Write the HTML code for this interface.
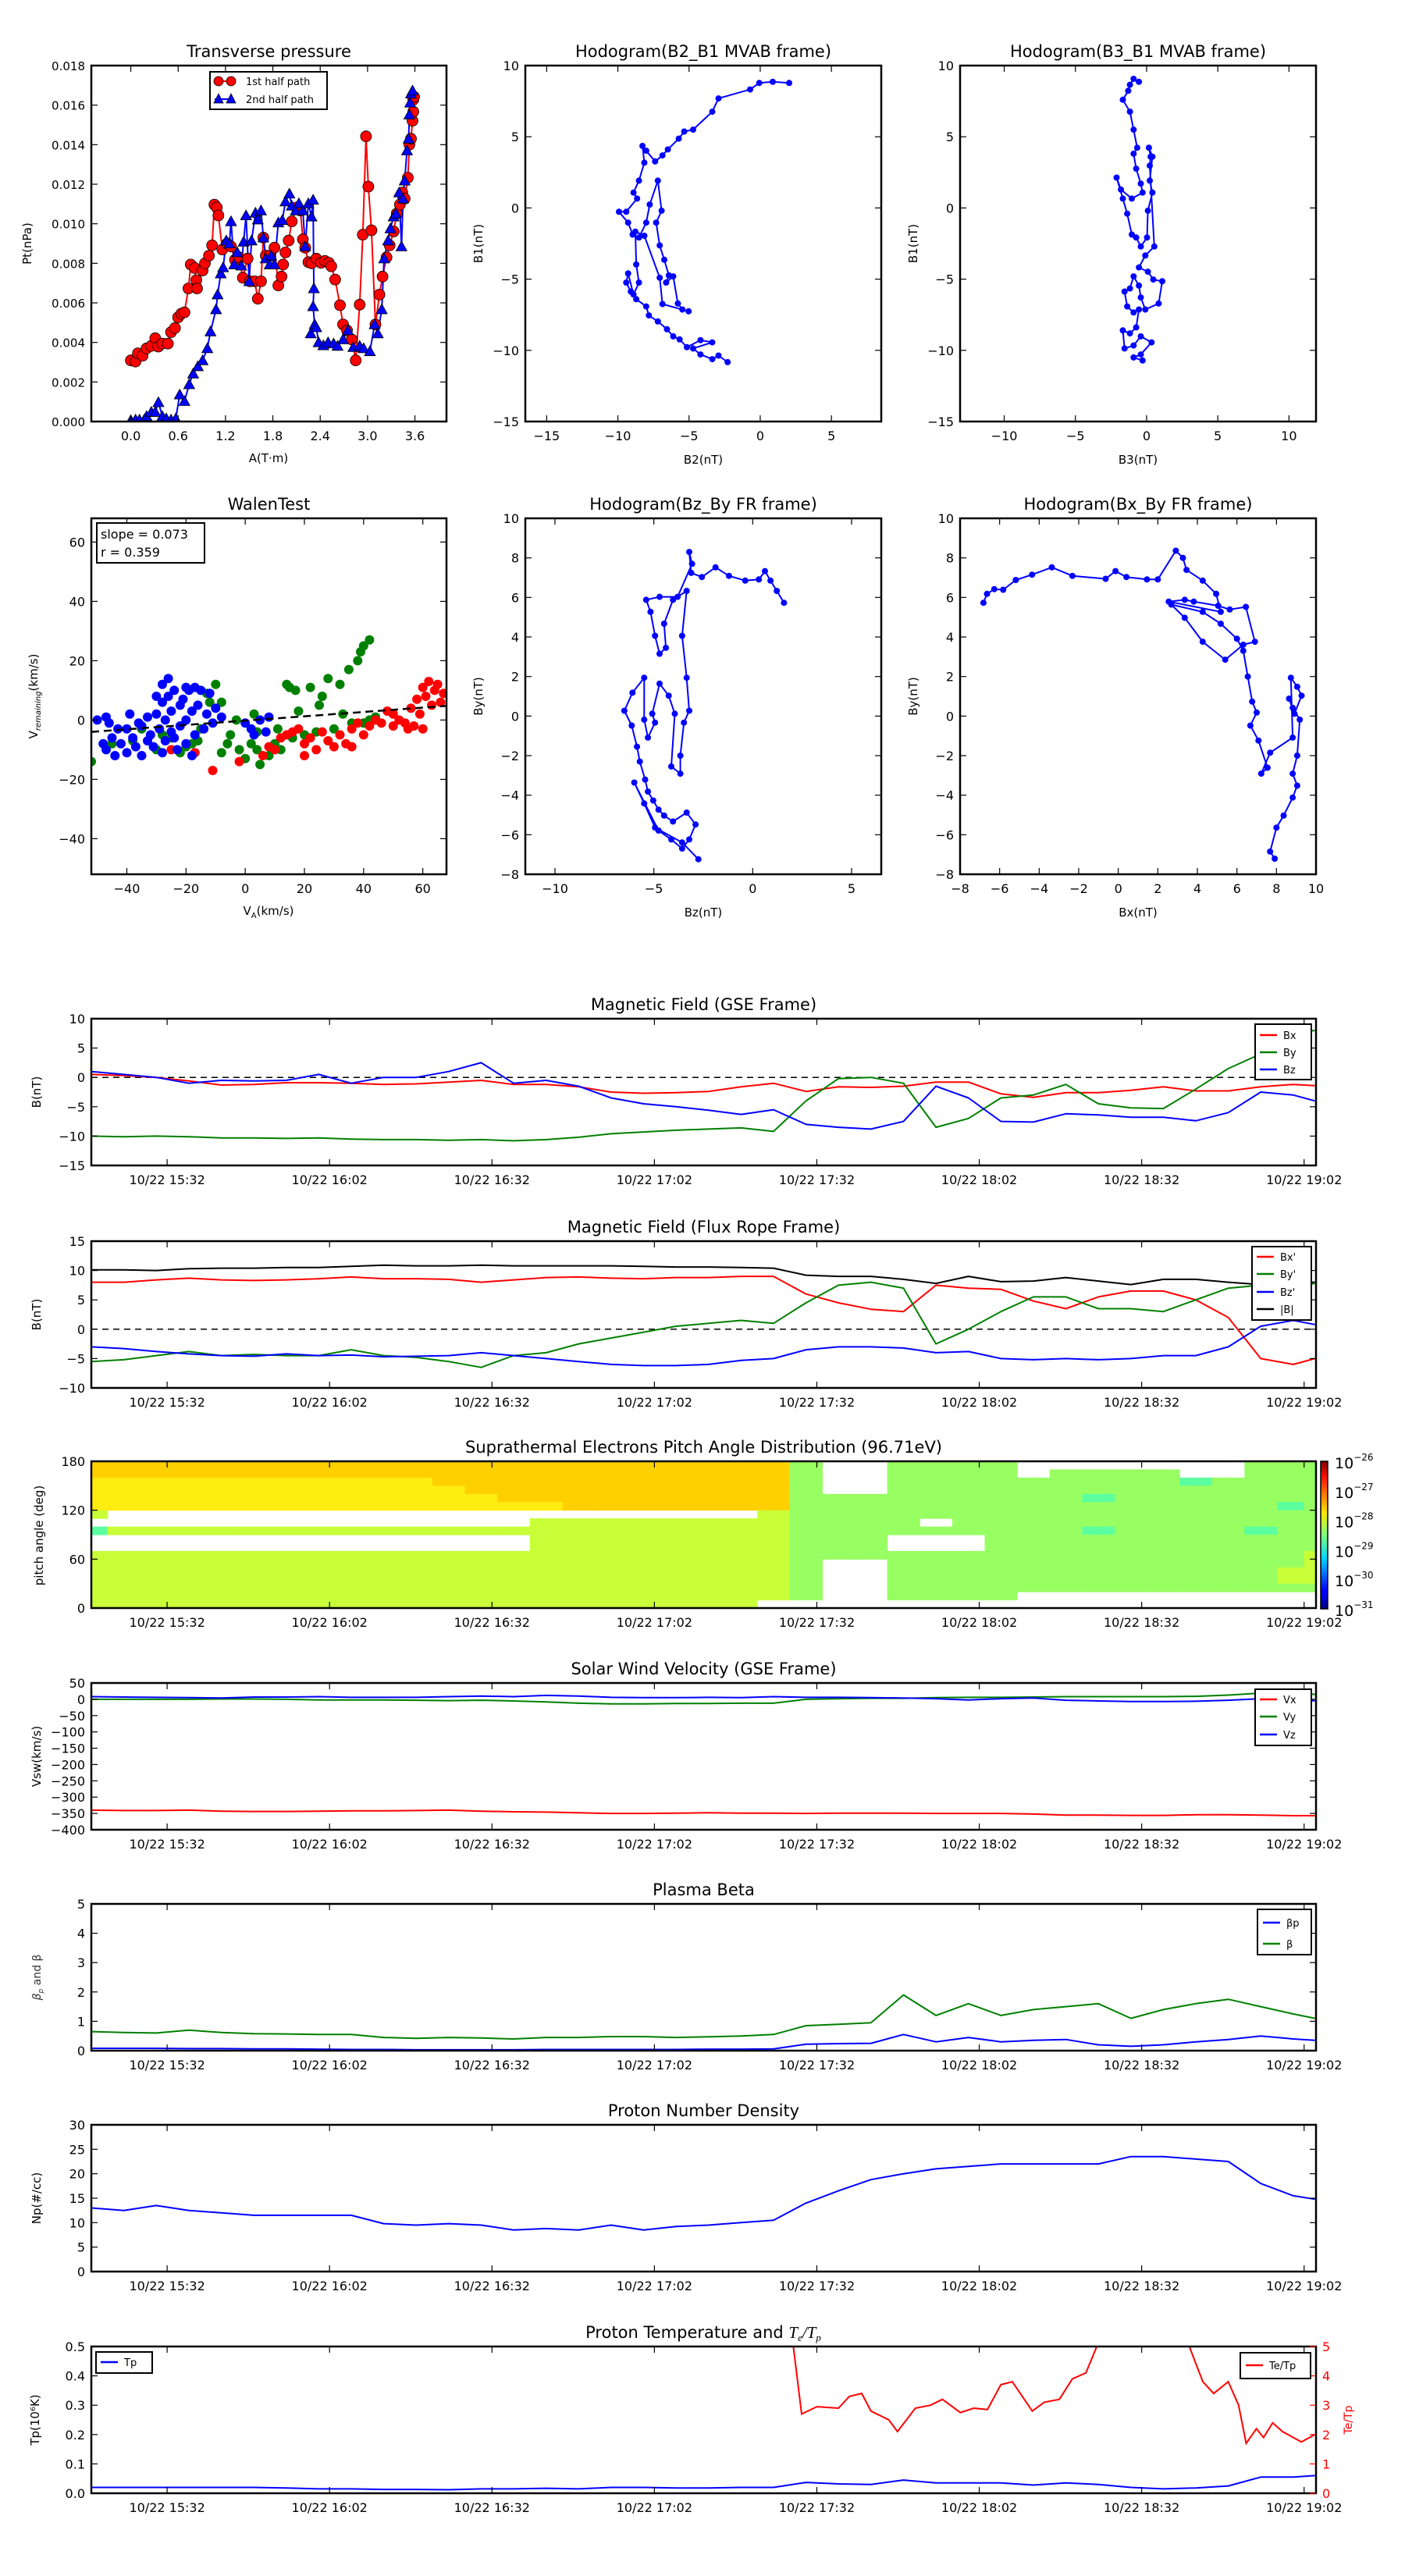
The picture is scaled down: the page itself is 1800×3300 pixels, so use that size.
<!DOCTYPE html>
<html><head><meta charset="utf-8"><title>Flux rope analysis</title>
<style>
html,body{margin:0;padding:0;background:#fff;}
svg{display:block;font-family:"DejaVu Sans","Liberation Sans",sans-serif;}
</style></head>
<body>
<svg id="fig" width="1800" height="3300" viewBox="0 0 1800 3300" xmlns="http://www.w3.org/2000/svg">
<defs>
<linearGradient id="jet" x1="0" y1="1" x2="0" y2="0">
<stop offset="0" stop-color="#00007f"/><stop offset="0.11" stop-color="#0000ff"/><stop offset="0.125" stop-color="#0000ff"/>
<stop offset="0.34" stop-color="#00d4ff"/><stop offset="0.5" stop-color="#7dff7a"/><stop offset="0.65" stop-color="#ffe600"/>
<stop offset="0.89" stop-color="#ff1300"/><stop offset="1" stop-color="#7f0000"/>
</linearGradient>
</defs>
</svg>
<script>
// ---------------- DATA ----------------
// Transverse pressure (A in T·m, Pt in 1e-3 nPa)
const ptA1 = [0.00,0.06,0.09,0.15,0.20,0.26,0.31,0.35,0.40,0.47,0.51,0.56,0.60,0.64,0.68,0.73,0.76,0.81,0.83,0.84,0.91,0.94,0.99,1.03,1.06,1.09,1.11,1.16,1.22,1.27,1.32,1.37,1.42,1.48,1.51,1.57,1.61,1.65,1.68,1.71,1.76,1.82,1.87,1.91,1.93,1.96,2.00,2.04,2.10,2.15,2.18,2.21,2.25,2.29,2.35,2.41,2.46,2.51,2.54,2.59,2.65,2.69,2.74,2.80,2.85,2.90,2.94,2.98,3.01,3.05,3.10,3.15,3.19,3.24,3.28,3.33,3.37,3.41,3.44,3.47,3.51,3.53,3.55,3.57,3.58,3.58,3.59];
const ptP1 = [3.09,3.03,3.45,3.33,3.70,3.82,4.21,3.79,3.94,3.94,4.52,4.73,5.27,5.45,5.52,6.73,7.94,7.76,7.15,6.73,7.64,8.00,8.39,8.91,10.97,10.82,10.42,8.70,9.00,8.85,8.18,8.30,7.27,8.24,7.09,7.09,6.21,7.09,9.30,8.39,8.39,8.79,6.88,7.33,7.94,8.55,9.15,10.12,10.82,10.67,9.21,8.79,8.06,8.00,8.24,8.03,8.12,8.03,7.85,7.18,5.88,4.91,4.61,4.15,3.09,5.91,9.45,14.42,11.88,9.67,4.91,6.42,7.33,8.30,8.91,9.61,10.52,10.97,11.58,11.27,12.33,14.00,14.30,15.21,15.67,16.27,16.42];
const ptA2 = [0.00,0.06,0.11,0.17,0.20,0.26,0.31,0.35,0.40,0.45,0.51,0.57,0.62,0.68,0.74,0.79,0.85,0.91,0.97,1.01,1.08,1.10,1.14,1.17,1.21,1.25,1.27,1.31,1.35,1.40,1.43,1.46,1.50,1.53,1.58,1.61,1.65,1.68,1.71,1.76,1.78,1.82,1.87,1.92,1.96,2.01,2.04,2.09,2.13,2.18,2.21,2.25,2.29,2.31,2.32,2.31,2.33,2.28,2.35,2.38,2.44,2.50,2.57,2.62,2.69,2.75,2.82,2.90,2.95,3.03,3.09,3.13,3.18,3.21,3.26,3.29,3.33,3.36,3.40,3.43,3.45,3.47,3.50,3.52,3.53,3.54,3.55,3.57];
const ptP2 = [0.06,0.09,0.09,0.09,0.27,0.48,0.48,0.97,0.27,0.15,0.09,0.15,1.36,1.03,1.88,2.42,2.79,3.09,3.70,4.55,5.67,6.42,7.48,7.79,9.15,9.00,10.12,7.94,8.55,7.88,9.09,10.42,7.09,9.15,10.55,10.21,10.67,9.30,8.24,7.94,8.39,7.94,10.06,10.18,11.12,11.52,10.91,10.67,11.03,10.67,8.85,11.03,10.36,11.21,6.73,5.82,4.91,4.45,4.76,4.00,3.85,4.00,3.94,3.82,4.15,4.61,3.76,3.82,3.70,3.55,4.91,4.45,5.67,8.24,9.15,9.76,10.36,10.52,11.58,8.85,11.27,12.18,13.70,14.30,15.52,16.12,16.58,16.73];
// Hodogram B2-B1
const h1B2 = [2.03,0.88,-0.07,-0.71,-2.93,-3.37,-4.71,-5.34,-5.72,-6.49,-6.87,-7.38,-8.01,-8.27,-8.14,-8.52,-8.90,-8.65,-9.41,-9.92,-9.28,-8.96,-8.52,-8.01,-7.76,-7.19,-6.93,-7.31,-7.06,-6.74,-6.42,-6.61,-6.11,-5.79,-5.47,-5.03,-6.87,-7.06,-8.14,-8.77,-8.71,-8.52,-8.90,-9.28,-9.41,-9.09,-8.71,-8.01,-7.82,-7.19,-6.55,-6.11,-5.66,-5.15,-4.20,-3.37,-4.71,-4.20,-3.37,-2.93,-2.29];
const h1B1 = [8.78,8.86,8.78,8.32,7.69,6.76,5.50,5.37,4.87,4.11,3.69,3.27,4.02,4.36,3.18,1.92,1.08,0.66,-0.27,-0.27,-1.03,-1.87,-2.08,-1.03,0.24,1.92,-0.19,-1.03,-2.63,-3.64,-4.73,-5.24,-4.81,-6.71,-7.13,-7.26,-6.75,-4.90,-1.95,-1.66,-3.97,-5.24,-6.08,-4.60,-5.24,-5.87,-6.41,-6.92,-7.55,-7.97,-8.52,-9.02,-9.23,-9.78,-9.28,-9.44,-9.87,-10.29,-10.62,-10.37,-10.83];
// Hodogram B3-B1
const h2B3 = [-0.54,-0.91,-1.17,-1.29,-1.67,-1.17,-0.91,-0.66,-0.91,-0.73,-0.41,-0.28,-1.04,-1.80,-2.11,-1.67,-1.36,-1.04,-0.73,-0.41,0.03,0.09,0.41,0.22,0.41,0.16,0.28,0.22,0.54,-0.09,-0.54,0.09,0.47,1.10,0.85,-0.09,-0.41,-0.54,-0.91,-1.17,-1.55,-1.36,-0.91,-0.54,-0.73,-1.17,-1.67,-1.55,-0.91,-0.41,0.35,-0.41,-0.91,-0.28];
const h2B1 = [8.86,9.07,8.65,8.23,7.60,6.76,5.50,4.23,3.81,2.76,1.71,1.08,0.66,1.29,2.13,0.66,-0.40,-1.87,-2.08,-2.71,-2.08,-0.19,1.08,1.92,3.60,4.23,3.60,2.97,-2.71,-3.34,-4.18,-4.48,-5.03,-5.15,-6.71,-7.13,-6.29,-5.45,-4.81,-5.66,-5.87,-6.92,-7.34,-7.13,-8.39,-8.81,-8.60,-9.87,-9.66,-9.02,-9.44,-10.29,-10.50,-10.71];
// Hodogram Bz-By (FR)
const h3Bz = [1.58,1.22,0.90,0.62,0.31,-0.38,-1.20,-1.88,-2.57,-3.11,-3.21,-3.07,-3.80,-4.71,-5.39,-5.17,-4.94,-4.71,-4.39,-4.48,-4.03,-3.34,-3.57,-3.34,-3.21,-3.48,-3.66,-3.66,-4.12,-3.94,-4.25,-4.71,-5.08,-4.94,-5.30,-5.49,-5.49,-6.08,-6.49,-6.12,-5.85,-5.71,-5.44,-5.30,-5.03,-4.76,-4.48,-4.03,-3.34,-2.89,-3.21,-3.57,-4.12,-4.76,-5.99,-5.49,-4.94,-3.57,-2.75];
const h3By = [5.73,6.33,6.85,7.33,6.91,6.85,7.09,7.52,7.03,7.24,8.30,7.70,6.03,6.03,5.88,5.27,4.06,3.15,3.45,4.67,5.88,6.33,4.06,1.94,0.27,-0.33,-2.00,-2.91,-2.55,0.12,1.03,1.64,0.12,-0.33,-1.09,-0.18,1.94,1.18,0.27,-0.48,-1.55,-2.30,-3.21,-3.82,-4.27,-4.73,-5.03,-5.33,-4.88,-5.48,-6.24,-6.70,-6.24,-5.79,-3.36,-4.42,-5.64,-6.39,-7.24];
// Hodogram Bx-By (FR)
const h4Bx = [-6.82,-6.64,-6.27,-5.82,-5.18,-4.36,-3.36,-2.32,-0.64,-0.14,0.41,1.45,2.00,2.91,3.27,3.45,4.27,4.95,5.18,2.55,3.36,3.82,5.05,5.64,6.45,6.91,6.32,5.41,4.27,3.36,2.68,4.27,5.18,6.00,6.32,6.55,6.77,7.00,6.68,7.09,7.55,7.23,7.68,8.82,8.73,9.05,9.27,8.91,8.64,8.82,9.18,9.05,8.82,9.05,8.82,8.36,8.00,7.68,7.91];
const h4By = [5.73,6.18,6.42,6.39,6.88,7.15,7.52,7.09,6.94,7.33,7.03,6.91,6.91,8.36,8.00,7.39,6.85,6.18,5.27,5.79,5.88,5.79,5.58,5.39,5.52,3.76,3.61,2.85,3.76,4.97,5.64,5.27,4.67,3.91,3.30,2.00,0.73,0.18,-0.48,-1.24,-2.61,-2.91,-1.85,-1.09,1.94,1.48,1.03,0.12,0.88,0.42,-0.18,-2.00,-2.91,-3.52,-4.12,-5.03,-5.64,-6.85,-7.21];
// Walen test scatter (V_A, V_remaining) km/s
const walBlueX = [-48,-47,-45,-44,-42,-40,-40,-38,-37,-35,-35,-33,-32,-31,-30,-29,-28,-27,-27,-26,-25,-25,-24,-23,-22,-22,-21,-20,-20,-19,-18,-17,-16,-15,-14,-13,-12,-11,-10,-8,-26,-33,-30,-28,-36,-43,-46,-24,-18,0,2,5,7,3,8,-50,-47,-39,-28,-20,-17];
const walBlueY = [-8,-10,-6,-12,-8,-3,-11,-6,-9,-2,-12,1,-5,-9,2,-3,6,-7,0,8,-4,3,10,-10,5,-2,7,-8,0,10,3,-5,5,10,-3,2,9,-1,4,1,14,-7,8,-11,-1,-3,-1,-6,-12,-1,-3,0,-4,-5,1,0,1,2,12,11,11];
const walGreenX = [-52,-45,-38,-35,-30,-28,-25,-22,-20,-18,-15,-13,-10,-12,-8,-6,-5,-2,0,2,3,4,5,8,10,12,14,15,17,18,20,22,24,25,26,28,30,32,33,35,36,38,39,40,42,40,42,44,16,11,-3,-8,-16,4];
const walGreenY = [-14,-8,-7,-3,-10,-5,-6,-11,-9,-8,-3,9,12,6,6,-8,-5,-10,-13,-8,2,-10,-15,-12,-8,-10,12,11,10,3,-5,11,-4,5,8,14,-3,12,2,17,-1,20,23,25,27,-1,0,1,-6,-3,0,-11,-7,-4];
const walRedX = [-25,-17,-11,-2,6,8,12,14,16,18,20,22,24,26,28,30,32,34,36,38,40,42,44,46,48,50,52,54,56,57,58,59,60,61,62,63,64,65,66,67,60,55,50,10,20,36];
const walRedY = [-10,-11,-17,-14,-12,-9,-6,-5,-4,-3,-8,-6,-10,-4,-7,-9,-5,-8,-3,-1,-5,-2,0,-1,3,2,0,-1,4,-2,7,2,11,8,13,5,10,12,6,9,-3,-3,-2,-10,-12,-9];
const walenSlope = 0.073, walenIntercept = -0.2, walenR = 0.359;

// Time series: minutes after 10/22 15:32
const tGrid = [-14,-8,-2,4,10,16,22,28,34,40,46,52,58,64,70,76,82,88,94,100,106,112,118,124,130,136,142,148,154,160,166,172,178,184,190,196,202,208,212];
const timeTickMin = [0,30,60,90,120,150,180,210];
const timeTickLabels = ["10/22 15:32","10/22 16:02","10/22 16:32","10/22 17:02","10/22 17:32","10/22 18:02","10/22 18:32","10/22 19:02"];
const gseBx = [0.5,0.3,0,-0.6,-1.3,-1.2,-0.9,-0.9,-1.0,-1.2,-1.1,-0.8,-0.5,-1.2,-1.2,-1.6,-2.5,-2.7,-2.6,-2.4,-1.6,-1.0,-2.4,-1.6,-1.7,-1.5,-0.8,-0.8,-2.8,-3.4,-2.6,-2.6,-2.2,-1.6,-2.3,-2.3,-1.6,-1.2,-1.4];
const gseBy = [-10,-10.1,-10,-10.1,-10.3,-10.3,-10.4,-10.3,-10.5,-10.6,-10.6,-10.7,-10.6,-10.8,-10.6,-10.2,-9.6,-9.3,-9.0,-8.8,-8.6,-9.2,-4.0,-0.2,0,-1.0,-8.5,-7.0,-3.5,-3.0,-1.2,-4.5,-5.2,-5.3,-2.0,1.5,4.0,7.5,8.0];
const gseBz = [1,0.5,0,-1.0,-0.5,-0.6,-0.5,0.5,-1.0,0,0,1.0,2.5,-1.0,-0.5,-1.5,-3.5,-4.5,-5.0,-5.6,-6.3,-5.5,-8.0,-8.5,-8.8,-7.5,-1.5,-3.5,-7.5,-7.6,-6.2,-6.4,-6.8,-6.8,-7.4,-6.0,-2.5,-3.0,-4.0];
const frBx = [8,8,8.4,8.7,8.4,8.3,8.4,8.6,8.9,8.6,8.6,8.5,8.0,8.4,8.8,8.9,8.7,8.6,8.8,8.8,9.0,9.0,6.0,4.5,3.4,3.0,7.5,7.0,6.8,4.8,3.5,5.5,6.5,6.5,5.0,2.0,-5.0,-6.0,-5.0];
const frBy = [-5.5,-5.2,-4.5,-3.8,-4.5,-4.3,-4.5,-4.5,-3.5,-4.5,-4.8,-5.5,-6.5,-4.5,-4.0,-2.5,-1.5,-0.5,0.5,1.0,1.5,1.0,4.5,7.5,8.0,7.0,-2.5,0,3.0,5.5,5.5,3.5,3.5,3.0,5.0,7.0,7.5,7.3,7.8];
const frBz = [-3,-3.3,-3.8,-4.2,-4.5,-4.6,-4.2,-4.5,-4.4,-4.7,-4.6,-4.5,-4.0,-4.5,-5.0,-5.5,-6.0,-6.2,-6.2,-6.0,-5.3,-5.0,-3.5,-3.0,-3.0,-3.2,-4.0,-3.8,-5.0,-5.2,-5.0,-5.2,-5.0,-4.5,-4.5,-3.0,0.5,1.5,0.8];
const frBmag = [10.1,10.1,10,10.3,10.4,10.4,10.5,10.5,10.7,10.9,10.8,10.8,10.9,10.8,10.8,10.8,10.8,10.7,10.6,10.6,10.5,10.4,9.2,9.0,9.0,8.5,7.8,9.0,8.1,8.2,8.8,8.2,7.6,8.5,8.5,8.0,7.6,8.0,8.0];
// PAD: rows 170-180 deg (top) ... 0-10 deg (bottom); one char per tGrid column; 0 = no data, 4..8 = log-flux level
const padRows = [
 "8888888888888888888888"+"5005555"+"0000000555",
 "8888888888888888888888"+"5005555"+"0555500555",
 "7777777777788888888888"+"5005555"+"5555545555",
 "7777777777778888888888"+"5005555"+"5555555555",
 "7777777777777888888888"+"5555555"+"5545555555",
 "7777777777777778888888"+"5555555"+"5555555545",
 "6000000000000000000006"+"5555555"+"5555555555",
 "0000000000000066666666"+"5555055"+"5555555555",
 "4666666666666666666666"+"5555555"+"5545555455",
 "0000000000000066666666"+"5550005"+"5555555555",
 "0000000000000066666666"+"5550005"+"5555555555",
 "6666666666666666666666"+"5555555"+"5555555556",
 "6666666666666666666666"+"5005555"+"5555555556",
 "6666666666666666666666"+"5005555"+"5555555566",
 "6666666666666666666666"+"5005555"+"5555555566",
 "6666666666666666666666"+"5005555"+"5555555555",
 "6666666666666666666666"+"5005555"+"0000000000",
 "6666666666666666666660"+"0000000"+"0000000000"
];
const padLevelColors = {"4":"#5cffa0","5":"#98ff62","6":"#c8ff38","7":"#ffec10","8":"#ffd000"};
const vswVx = [-340,-341,-341,-340,-343,-344,-344,-343,-342,-342,-341,-340,-343,-345,-346,-348,-350,-350,-349,-348,-349,-349,-350,-349,-349,-349,-350,-350,-350,-352,-355,-355,-356,-356,-354,-354,-355,-357,-357];
const vswVy = [0,0,0,0,1,1,0,-2,-2,-2,-3,-4,-3,-5,-8,-12,-14,-14,-13,-13,-12,-12,0,2,3,3,5,6,6,7,8,8,8,8,9,13,19,20,15];
const vswVz = [8,7,6,5,4,7,7,8,6,6,6,8,10,8,12,10,6,5,5,6,5,8,6,6,5,4,2,-2,2,4,-3,-5,-7,-7,-6,-3,2,5,-5];
const betaP = [0.08,0.08,0.08,0.07,0.07,0.06,0.06,0.05,0.04,0.04,0.03,0.03,0.03,0.03,0.04,0.04,0.04,0.04,0.04,0.05,0.05,0.06,0.22,0.24,0.25,0.55,0.3,0.45,0.3,0.35,0.38,0.2,0.15,0.2,0.3,0.38,0.5,0.4,0.35];
const betaTot = [0.65,0.62,0.6,0.7,0.62,0.58,0.57,0.55,0.55,0.45,0.42,0.45,0.43,0.4,0.45,0.45,0.48,0.48,0.45,0.47,0.5,0.55,0.85,0.9,0.95,1.9,1.2,1.6,1.2,1.4,1.5,1.6,1.1,1.4,1.6,1.75,1.5,1.25,1.1];
const npDens = [13,12.5,13.5,12.5,12,11.5,11.5,11.5,11.5,9.8,9.5,9.8,9.5,8.5,8.8,8.5,9.5,8.5,9.2,9.5,10,10.5,14,16.5,18.8,20,21,21.5,22,22,22,22,23.5,23.5,23,22.5,18,15.5,14.8];
const tpTemp = [0.02,0.02,0.02,0.02,0.02,0.02,0.018,0.015,0.015,0.013,0.013,0.012,0.015,0.015,0.017,0.015,0.02,0.02,0.018,0.018,0.02,0.02,0.037,0.032,0.03,0.045,0.035,0.035,0.035,0.028,0.035,0.03,0.02,0.015,0.018,0.025,0.055,0.055,0.06];
const teTpTime = [115,117.2,120,124,126,128.3,130,133.3,134.9,138.2,141,143.2,146.5,149,151.5,154,156.1,159.8,162,164.8,167.2,169.7,171.7,175,186,188.8,191.3,193.3,196,197.9,199.3,201.2,202.5,204.2,206,208,209.5,212];
const teTpVal = [6.0,2.7,2.95,2.9,3.3,3.4,2.8,2.5,2.1,2.9,3.0,3.2,2.75,2.9,2.85,3.7,3.8,2.8,3.1,3.2,3.9,4.1,5.0,7,7,5.0,3.8,3.4,3.8,3.0,1.7,2.2,1.9,2.4,2.1,1.9,1.75,2.0];

// ---------------- HELPERS ----------------
const NS = "http://www.w3.org/2000/svg";
const svg = document.getElementById("fig");
let clipN = 0;
function mk(tag, attrs, parent, name) {
  const e = document.createElementNS(NS, tag);
  for (const k in attrs) e.setAttribute(k, attrs[k]);
  
  
  parent.appendChild(e);
  return e;
}
function txt(x, y, s, parent, name, opts) {
  opts = opts || {};
  const a = {x: x, y: y, "font-size": opts.size || 16, fill: opts.fill || "#000", "text-anchor": opts.anchor || "middle"};
  if (opts.rot) a.transform = "rotate(-90 " + x + " " + y + ")";
  const t = mk("text", a, parent, name);
  t.textContent = s;
  return t;
}
function fmtNum(v) { return String(v).replace("-", "\u2212"); }
function scale(d0, d1, r0, r1) { return v => r0 + (v - d0) / (d1 - d0) * (r1 - r0); }

function makeAxes(name, x0, y0, x1, y1, xd, yd) {
  const g = mk("g", {}, svg, name);
  const cid = "clip" + (clipN++);
  const cp = mk("clipPath", {id: cid}, g, name + "-clip");
  mk("rect", {x: x0, y: y0, width: x1 - x0, height: y1 - y0}, cp, name + "-clip-rect");
  const plot = mk("g", {"clip-path": "url(#" + cid + ")"}, g, name + "-plot-area");
  const ax = {g: g, plot: plot, x0: x0, y0: y0, x1: x1, y1: y1,
    sx: scale(xd[0], xd[1], x0, x1), sy: scale(yd[0], yd[1], y1, y0), name: name};
  return ax;
}
function frame(ax) {
  mk("rect", {x: ax.x0, y: ax.y0, width: ax.x1 - ax.x0, height: ax.y1 - ax.y0, fill: "none", stroke: "#000", "stroke-width": 2.5}, ax.g, ax.name + "-frame");
}
function xTicks(ax, vals, labels, size) {
  const g = mk("g", {}, ax.g, ax.name + "-x-axis");
  vals.forEach((v, i) => {
    const x = ax.sx(v);
    mk("line", {x1: x, y1: ax.y1, x2: x, y2: ax.y1 - 8, stroke: "#000", "stroke-width": 1.2}, g, "x-tick");
    mk("line", {x1: x, y1: ax.y0, x2: x, y2: ax.y0 + 8, stroke: "#000", "stroke-width": 1.2}, g, "x-tick-top");
    txt(x, ax.y1 + 24, labels ? labels[i] : fmtNum(v), g, "x-tick-label", {size: size || 16});
  });
}
function yTicks(ax, vals, labels, size) {
  const g = mk("g", {}, ax.g, ax.name + "-y-axis");
  vals.forEach((v, i) => {
    const y = ax.sy(v);
    mk("line", {x1: ax.x0, y1: y, x2: ax.x0 + 8, y2: y, stroke: "#000", "stroke-width": 1.2}, g, "y-tick");
    mk("line", {x1: ax.x1, y1: y, x2: ax.x1 - 8, y2: y, stroke: "#000", "stroke-width": 1.2}, g, "y-tick-right");
    txt(ax.x0 - 8, y + 6, labels ? labels[i] : fmtNum(v), g, "y-tick-label", {size: size || 16, anchor: "end"});
  });
}
function polyline(ax, xs, ys, color, name, w) {
  let d = "";
  xs.forEach((x, i) => { d += (i ? "L" : "M") + ax.sx(x).toFixed(1) + " " + ax.sy(ys[i]).toFixed(1); });
  return mk("path", {d: d, fill: "none", stroke: color, "stroke-width": w || 2, "stroke-linejoin": "round"}, ax.plot, name);
}
function dots(ax, xs, ys, color, r, name, edge) {
  const g = mk("g", {}, ax.plot, name);
  xs.forEach((x, i) => {
    const c = mk("circle", {cx: ax.sx(x).toFixed(1), cy: ax.sy(ys[i]).toFixed(1), r: r, fill: color}, g, name + "-point");
    if (edge) { c.setAttribute("stroke", "#000"); c.setAttribute("stroke-width", 0.8); }
  });
}
function triangles(ax, xs, ys, color, s, name) {
  const g = mk("g", {}, ax.plot, name);
  xs.forEach((x, i) => {
    const cx = ax.sx(x), cy = ax.sy(ys[i]);
    mk("polygon", {points: cx + "," + (cy - s) + " " + (cx - s) + "," + (cy + s * 0.8) + " " + (cx + s) + "," + (cy + s * 0.8), fill: color, stroke: "#000", "stroke-width": 0.8}, g, name + "-point");
  });
}
function title(ax, s, name) { return txt((ax.x0 + ax.x1) / 2, ax.y0 - 11, s, ax.g, name || "chart-title", {size: 21}); }
function legendBox(parent, x, y, w, h, name) {
  return mk("rect", {x: x, y: y, width: w, height: h, fill: "#fff", stroke: "#000", "stroke-width": 2}, parent, name);
}
function legendEntry(parent, x, y, color, label, name) {
  const g = mk("g", {}, parent, name);
  mk("line", {x1: x, y1: y, x2: x + 22, y2: y, stroke: color, "stroke-width": 2.5}, g, name + "-swatch");
  txt(x + 30, y + 5, label, g, name + "-label", {size: 13, anchor: "start"});
  return g;
}

// ---------------- TOP GRID ----------------
// Transverse pressure
(function () {
  const ax = makeAxes("transverse-pressure-chart", 117, 84, 572, 540, [-0.5, 4.0], [0, 0.018]);
  const P = v => v / 1000;
  let d1 = "", d2 = "";
  ptA1.forEach((a, i) => { d1 += (i ? "L" : "M") + ax.sx(a).toFixed(1) + " " + ax.sy(P(ptP1[i])).toFixed(1); });
  ptA2.forEach((a, i) => { d2 += (i ? "L" : "M") + ax.sx(a).toFixed(1) + " " + ax.sy(P(ptP2[i])).toFixed(1); });
  mk("path", {d: d1, fill: "none", stroke: "#ff0000", "stroke-width": 2}, ax.plot, "first-half-path-line");
  mk("path", {d: d2, fill: "none", stroke: "#0000ff", "stroke-width": 2}, ax.plot, "second-half-path-line");
  dots(ax, ptA1, ptP1.map(P), "#ff0000", 7, "first-half-markers", true);
  triangles(ax, ptA2, ptP2.map(P), "#0000ff", 7, "second-half-markers");
  frame(ax);
  xTicks(ax, [0, 0.6, 1.2, 1.8, 2.4, 3.0, 3.6], ["0.0", "0.6", "1.2", "1.8", "2.4", "3.0", "3.6"]);
  yTicks(ax, [0, 0.002, 0.004, 0.006, 0.008, 0.010, 0.012, 0.014, 0.016, 0.018], ["0.000", "0.002", "0.004", "0.006", "0.008", "0.010", "0.012", "0.014", "0.016", "0.018"], 15);
  title(ax, "Transverse pressure");
  txt(344, 592, "A(T\u00b7m)", ax.g, "x-axis-title", {size: 15});
  txt(40, 312, "Pt(nPa)", ax.g, "y-axis-title", {size: 15, rot: true});
  const lg = mk("g", {}, ax.g, "legend");
  legendBox(lg, 269, 92, 150, 48, "legend-box");
  mk("line", {x1: 275, y1: 104, x2: 300, y2: 104, stroke: "#ff0000", "stroke-width": 2}, lg, "legend-line-first");
  mk("circle", {cx: 280, cy: 104, r: 6, fill: "#ff0000", stroke: "#000", "stroke-width": 0.8}, lg, "legend-marker-first");
  mk("circle", {cx: 296, cy: 104, r: 6, fill: "#ff0000", stroke: "#000", "stroke-width": 0.8}, lg, "legend-marker-first");
  txt(315, 109, "1st half path", lg, "legend-entry-first", {size: 13, anchor: "start"});
  mk("line", {x1: 275, y1: 127, x2: 300, y2: 127, stroke: "#0000ff", "stroke-width": 2}, lg, "legend-line-second");
  mk("polygon", {points: "280,120 274,132 286,132", fill: "#0000ff", stroke: "#000", "stroke-width": 0.8}, lg, "legend-marker-second");
  mk("polygon", {points: "296,120 290,132 302,132", fill: "#0000ff", stroke: "#000", "stroke-width": 0.8}, lg, "legend-marker-second");
  txt(315, 132, "2nd half path", lg, "legend-entry-second", {size: 13, anchor: "start"});
})();

function hodogram(name, x0, y0, xd, yd, xs, ys, xt, yt, ttl, xl, yl) {
  const ax = makeAxes(name, x0, y0, x0 + 456, y0 + 456, xd, yd);
  polyline(ax, xs, ys, "#0000ff", name + "-path", 2);
  dots(ax, xs, ys, "#0000ff", 4, name + "-points", false);
  frame(ax);
  xTicks(ax, xt);
  yTicks(ax, yt);
  title(ax, ttl);
  txt(x0 + 228, y0 + 510, xl, ax.g, "x-axis-title", {size: 15});
  txt(x0 - 55, y0 + 228, yl, ax.g, "y-axis-title", {size: 15, rot: true});
  return ax;
}
hodogram("hodogram-b2-b1", 673, 84, [-16.5, 8.5], [-15, 10], h1B2, h1B1, [-15, -10, -5, 0, 5], [-15, -10, -5, 0, 5, 10], "Hodogram(B2_B1 MVAB frame)", "B2(nT)", "B1(nT)");
hodogram("hodogram-b3-b1", 1230, 84, [-13.1, 11.9], [-15, 10], h2B3, h2B1, [-10, -5, 0, 5, 10], [-15, -10, -5, 0, 5, 10], "Hodogram(B3_B1 MVAB frame)", "B3(nT)", "B1(nT)");
hodogram("hodogram-bz-by", 673, 664, [-11.5, 6.5], [-8, 10], h3Bz, h3By, [-10, -5, 0, 5], [-8, -6, -4, -2, 0, 2, 4, 6, 8, 10], "Hodogram(Bz_By FR frame)", "Bz(nT)", "By(nT)");
hodogram("hodogram-bx-by", 1230, 664, [-8, 10], [-8, 10], h4Bx, h4By, [-8, -6, -4, -2, 0, 2, 4, 6, 8, 10], [-8, -6, -4, -2, 0, 2, 4, 6, 8, 10], "Hodogram(Bx_By FR frame)", "Bx(nT)", "By(nT)");

// Walen test
(function () {
  const ax = makeAxes("walen-test-chart", 117, 664, 572, 1120, [-52, 68], [-52, 68]);
  dots(ax, walGreenX, walGreenY, "#008000", 6, "walen-green-points", false);
  dots(ax, walRedX, walRedY, "#ff0000", 6, "walen-red-points", false);
  dots(ax, walBlueX, walBlueY, "#0000ff", 6, "walen-blue-points", false);
  const xa = -52, xb = 68;
  mk("line", {x1: ax.sx(xa), y1: ax.sy(walenSlope * xa + walenIntercept), x2: ax.sx(xb), y2: ax.sy(walenSlope * xb + walenIntercept), stroke: "#000", "stroke-width": 2.5, "stroke-dasharray": "10,6"}, ax.plot, "walen-fit-line");
  frame(ax);
  xTicks(ax, [-40, -20, 0, 20, 40, 60]);
  yTicks(ax, [-40, -20, 0, 20, 40, 60]);
  title(ax, "WalenTest");
  const tb = mk("g", {}, ax.g, "walen-stats-box");
  legendBox(tb, 124, 670, 138, 51, "walen-stats-frame");
  txt(129, 690, "slope = " + walenSlope.toFixed(3), tb, "walen-slope-text", {size: 16, anchor: "start"});
  txt(129, 713, "r = " + walenR.toFixed(3), tb, "walen-r-text", {size: 16, anchor: "start"});
  const xl = txt(344, 1172, "V", ax.g, "x-axis-title", {size: 15});
  const s1 = mk("tspan", {"font-size": 10, dy: 4}, xl, "x-axis-title-sub"); s1.textContent = "A";
  const s2 = mk("tspan", {dy: -4}, xl, "x-axis-title-rest"); s2.textContent = "(km/s)";
  const yl = txt(48, 892, "V", ax.g, "y-axis-title", {size: 15, rot: true});
  const s3 = mk("tspan", {"font-size": 10, dy: 4, "font-style": "italic"}, yl, "y-axis-title-sub"); s3.textContent = "remaining";
  const s4 = mk("tspan", {dy: -4}, yl, "y-axis-title-rest"); s4.textContent = "(km/s)";
})();

// ---------------- TIME SERIES ----------------
function timePanel(name, top, yd, yt, ylabel, ttl) {
  const ax = makeAxes(name, 117, top, 1686, top + 188, [-14, 212.2], yd);
  ax.after = () => {
    frame(ax);
    xTicks(ax, timeTickMin, timeTickLabels, 16);
    yTicks(ax, yt);
    title(ax, ttl);
    if (ylabel) txt(52, top + 94, ylabel, ax.g, "y-axis-title", {size: 15, rot: true});
  };
  return ax;
}
function zeroLine(ax) {
  mk("line", {x1: ax.x0, y1: ax.sy(0), x2: ax.x1, y2: ax.sy(0), stroke: "#000", "stroke-width": 1.5, "stroke-dasharray": "8,6"}, ax.plot, "zero-reference-line");
}

// GSE field
(function () {
  const ax = timePanel("magnetic-field-gse-chart", 1305, [-15, 10], [-15, -10, -5, 0, 5, 10], "B(nT)", "Magnetic Field (GSE Frame)");
  zeroLine(ax);
  polyline(ax, tGrid, gseBx, "#ff0000", "bx-line");
  polyline(ax, tGrid, gseBy, "#008000", "by-line");
  polyline(ax, tGrid, gseBz, "#0000ff", "bz-line");
  ax.after();
  const lg = mk("g", {}, ax.g, "legend");
  legendBox(lg, 1608, 1312, 72, 71, "legend-box");
  legendEntry(lg, 1614, 1326, "#ff0000", "Bx", "legend-entry-bx");
  legendEntry(lg, 1614, 1348, "#008000", "By", "legend-entry-by");
  legendEntry(lg, 1614, 1370, "#0000ff", "Bz", "legend-entry-bz");
})();
// Flux rope field
(function () {
  const ax = timePanel("magnetic-field-fr-chart", 1590, [-10, 15], [-10, -5, 0, 5, 10, 15], "B(nT)", "Magnetic Field (Flux Rope Frame)");
  zeroLine(ax);
  polyline(ax, tGrid, frBmag, "#000000", "bmag-line");
  polyline(ax, tGrid, frBx, "#ff0000", "bx-prime-line");
  polyline(ax, tGrid, frBy, "#008000", "by-prime-line");
  polyline(ax, tGrid, frBz, "#0000ff", "bz-prime-line");
  ax.after();
  const lg = mk("g", {}, ax.g, "legend");
  legendBox(lg, 1604, 1597, 76, 94, "legend-box");
  legendEntry(lg, 1610, 1610, "#ff0000", "Bx'", "legend-entry-bx-prime");
  legendEntry(lg, 1610, 1632, "#008000", "By'", "legend-entry-by-prime");
  legendEntry(lg, 1610, 1655, "#0000ff", "Bz'", "legend-entry-bz-prime");
  legendEntry(lg, 1610, 1677, "#000000", "|B|", "legend-entry-bmag");
})();
// PAD
(function () {
  const ax = timePanel("pitch-angle-distribution-chart", 1872, [0, 180], [0, 60, 120, 180], null, "Suprathermal Electrons Pitch Angle Distribution (96.71eV)");
  const g = mk("g", {}, ax.plot, "pad-cells");
  padRows.forEach((row, r) => {
    const pHi = 180 - r * 10, pLo = pHi - 10;
    for (let c = 0; c < row.length; c++) {
      const lv = row[c];
      if (lv === "0") continue;
      const tc = tGrid[c];
      const tl = c === 0 ? -17 : (tGrid[c - 1] + tc) / 2;
      const tr = c === row.length - 1 ? 215 : (tGrid[c + 1] + tc) / 2;
      mk("rect", {x: ax.sx(tl).toFixed(1), y: ax.sy(pHi).toFixed(1), width: (ax.sx(tr) - ax.sx(tl) + 0.6).toFixed(1), height: (ax.sy(pLo) - ax.sy(pHi) + 0.6).toFixed(1), fill: padLevelColors[lv]}, g, "pad-cell");
    }
  });
  ax.after();
  txt(55, 1967, "pitch angle (deg)", ax.g, "y-axis-title", {size: 15, rot: true});
  const cb = mk("g", {}, svg, "colorbar");
  mk("rect", {x: 1692, y: 1872, width: 9, height: 189, fill: "url(#jet)", stroke: "#000", "stroke-width": 1.5}, cb, "colorbar-gradient");
  const cbExp = ["-26", "-27", "-28", "-29", "-30", "-31"];
  cbExp.forEach((e, i) => {
    const y = 1872 + i * 37.8;
    const t = txt(1710, y + 9, "10", cb, "colorbar-tick-label", {size: 19, anchor: "start"});
    const s = mk("tspan", {"font-size": 12, dy: -10}, t, "colorbar-tick-exponent"); s.textContent = e.replace("-", "\u2212");
  });
})();
// Velocity
(function () {
  const ax = timePanel("solar-wind-velocity-chart", 2156, [-400, 50], [-400, -350, -300, -250, -200, -150, -100, -50, 0, 50], "Vsw(km/s)", "Solar Wind Velocity (GSE Frame)");
  polyline(ax, tGrid, vswVx, "#ff0000", "vx-line");
  polyline(ax, tGrid, vswVy, "#008000", "vy-line");
  polyline(ax, tGrid, vswVz, "#0000ff", "vz-line");
  ax.after();
  const lg = mk("g", {}, ax.g, "legend");
  legendBox(lg, 1608, 2164, 72, 72, "legend-box");
  legendEntry(lg, 1614, 2177, "#ff0000", "Vx", "legend-entry-vx");
  legendEntry(lg, 1614, 2199, "#008000", "Vy", "legend-entry-vy");
  legendEntry(lg, 1614, 2222, "#0000ff", "Vz", "legend-entry-vz");
})();
// Beta
(function () {
  const ax = timePanel("plasma-beta-chart", 2439, [0, 5], [0, 1, 2, 3, 4, 5], null, "Plasma Beta");
  polyline(ax, tGrid, betaTot, "#008000", "beta-line");
  polyline(ax, tGrid, betaP, "#0000ff", "beta-p-line");
  ax.after();
  const yl = txt(52, 2533, "\u03b2", ax.g, "y-axis-title", {size: 14, rot: true, fill: "#333"});
  yl.setAttribute("font-style", "italic");
  const s = mk("tspan", {"font-size": 9, dy: 3}, yl, "y-axis-title-sub"); s.textContent = "p";
  const s2 = mk("tspan", {dy: -3, "font-style": "normal"}, yl, "y-axis-title-rest"); s2.textContent = " and \u03b2";
  const lg = mk("g", {}, ax.g, "legend");
  legendBox(lg, 1611, 2446, 69, 58, "legend-box");
  legendEntry(lg, 1618, 2463, "#0000ff", "\u03b2p", "legend-entry-beta-p");
  legendEntry(lg, 1618, 2490, "#008000", "\u03b2", "legend-entry-beta");
})();
// Density
(function () {
  const ax = timePanel("proton-density-chart", 2722, [0, 30], [0, 5, 10, 15, 20, 25, 30], "Np(#/cc)", "Proton Number Density");
  polyline(ax, tGrid, npDens, "#0000ff", "np-line");
  ax.after();
})();
// Temperature
(function () {
  const ax = timePanel("proton-temperature-chart", 3006, [0, 0.5], [0, 0.1, 0.2, 0.3, 0.4, 0.5], null, "");
  const sy2 = scale(0, 5, ax.y1, ax.y0);
  let d = "";
  teTpTime.forEach((t, i) => { d += (i ? "L" : "M") + ax.sx(t).toFixed(1) + " " + sy2(teTpVal[i]).toFixed(1); });
  mk("path", {d: d, fill: "none", stroke: "#ff0000", "stroke-width": 2}, ax.plot, "te-tp-line");
  polyline(ax, tGrid, tpTemp, "#0000ff", "tp-line");
  frame(ax);
  xTicks(ax, timeTickMin, timeTickLabels, 16);
  const yg = mk("g", {}, ax.g, "y-axis-left");
  [0, 0.1, 0.2, 0.3, 0.4, 0.5].forEach(v => {
    const y = ax.sy(v);
    mk("line", {x1: ax.x0, y1: y, x2: ax.x0 + 8, y2: y, stroke: "#000", "stroke-width": 1.2}, yg, "y-tick");
    txt(ax.x0 - 8, y + 6, v.toFixed(1), yg, "y-tick-label", {size: 16, anchor: "end"});
  });
  const yg2 = mk("g", {}, ax.g, "y-axis-right");
  [0, 1, 2, 3, 4, 5].forEach(v => {
    const y = sy2(v);
    mk("line", {x1: ax.x1, y1: y, x2: ax.x1 - 8, y2: y, stroke: "#ff0000", "stroke-width": 1.2}, yg2, "y-tick-right");
    txt(ax.x1 + 8, y + 6, String(v), yg2, "y-tick-label-right", {size: 16, anchor: "start", fill: "#ff0000"});
  });
  const tt = txt(901, 2995, "Proton Temperature and ", ax.g, "chart-title", {size: 21});
  const ts = mk("tspan", {"font-style": "italic", "font-family": "Liberation Serif, serif"}, tt, "title-te-tp"); ts.textContent = "T";
  const ts2 = mk("tspan", {"font-size": 13, dy: 4, "font-style": "italic", "font-family": "Liberation Serif, serif"}, tt, "title-sub-e"); ts2.textContent = "e";
  const ts3 = mk("tspan", {dy: -4, "font-style": "italic", "font-family": "Liberation Serif, serif"}, tt, "title-te-tp-b"); ts3.textContent = "/T";
  const ts4 = mk("tspan", {"font-size": 13, dy: 4, "font-style": "italic", "font-family": "Liberation Serif, serif"}, tt, "title-sub-p"); ts4.textContent = "p";
  txt(50, 3100, "Tp(10\u2076K)", ax.g, "y-axis-title", {size: 15, rot: true});
  txt(1732, 3100, "Te/Tp", ax.g, "y-axis-title-right", {size: 14, rot: true, fill: "#ff0000"});
  const lg = mk("g", {}, ax.g, "legend-tp");
  legendBox(lg, 123, 3013, 72, 27, "legend-box");
  legendEntry(lg, 129, 3026, "#0000ff", "Tp", "legend-entry-tp");
  const lg2 = mk("g", {}, ax.g, "legend-te-tp");
  legendBox(lg2, 1589, 3014, 90, 33, "legend-box");
  legendEntry(lg2, 1596, 3030, "#ff0000", "Te/Tp", "legend-entry-te-tp");
})();
</script>
</body></html>
